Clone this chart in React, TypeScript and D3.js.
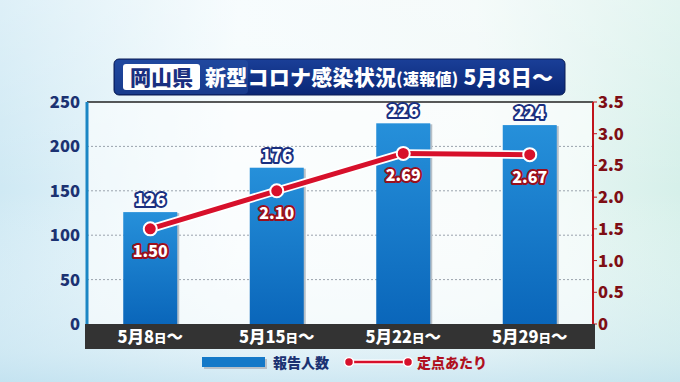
import React from "react";
import * as d3 from "d3";

const categories = ["5月8", "5月15", "5月22", "5月29"];
const reports = [126, 176, 226, 224];
const perSite = [1.5, 2.1, 2.69, 2.67];
const leftTicks = [0, 50, 100, 150, 200, 250];
const rightTicks = [0, 0.5, 1.0, 1.5, 2.0, 2.5, 3.0, 3.5];

const W = 680, H = 382;
const X0 = 87, X1 = 593, Y0 = 324, Y1 = 102;
const FONT = "'Noto Sans CJK JP', 'Noto Sans', sans-serif";

export default function App() {
  const x = d3.scaleBand<string>().domain(categories).range([X0, X1]).paddingInner(0.573).paddingOuter(0.2865);
  const yL = d3.scaleLinear().domain([0, 250]).range([Y0, Y1]);
  const yR = d3.scaleLinear().domain([0, 3.5]).range([Y0, Y1]);
  const cx = (c: string) => (x(c) as number) + x.bandwidth() / 2;
  const line = d3.line<number>().x((_, i) => cx(categories[i])).y((d) => yR(d));
  const path = line(perSite) as string;

  return (
    <svg width={W} height={H} style={{ position: "absolute", left: 0, top: 0, fontFamily: FONT }}>
      <defs>
        <linearGradient id="bg" x1="0" y1="0" x2="1" y2="0">
          <stop offset="0" stopColor="#cfe9f4" />
          <stop offset="0.35" stopColor="#f4fbfd" />
          <stop offset="0.7" stopColor="#f1f9f8" />
          <stop offset="1" stopColor="#d6f0ea" />
        </linearGradient>
        <linearGradient id="bgv" x1="0" y1="0" x2="0" y2="1">
          <stop offset="0" stopColor="#ffffff" stopOpacity="0.3" />
          <stop offset="0.5" stopColor="#ffffff" stopOpacity="0" />
          <stop offset="0.92" stopColor="#cfe8f3" stopOpacity="0.5" />
          <stop offset="1" stopColor="#bfe0ef" stopOpacity="0.7" />
        </linearGradient>
        <linearGradient id="bar" x1="0" y1="0" x2="0" y2="1">
          <stop offset="0" stopColor="#2690da" />
          <stop offset="1" stopColor="#0a66ba" />
        </linearGradient>
        <linearGradient id="title" x1="0" y1="0" x2="0" y2="1">
          <stop offset="0" stopColor="#1a3f98" />
          <stop offset="1" stopColor="#0a2776" />
        </linearGradient>
      </defs>
      <rect x={0} y={0} width={W} height={H} fill="url(#bg)" />
      <rect x={0} y={0} width={W} height={H} fill="url(#bgv)" />

      {/* plot area */}
      <rect x={X0} y={Y1} width={X1 - X0} height={Y0 - Y1} fill="#ffffff" opacity={0.55} />
      {leftTicks.filter((t) => t > 0 && t < 250).map((t) => (
        <line key={t} x1={X0} x2={X1} y1={yL(t)} y2={yL(t)} stroke="#9aa3ad" strokeWidth={1} strokeDasharray="2 2" />
      ))}
      <line x1={X0} x2={X1} y1={Y1} y2={Y1} stroke="#222" strokeWidth={1.5} />

      {/* bars */}
      {reports.map((v, i) => {
        const c = categories[i];
        const bx = x(c) as number;
        return (
          <g key={c}>
            <rect x={bx + 2} y={yL(v) + 1} width={x.bandwidth()} height={Y0 - yL(v)} fill="#b7c0c8" />
            <rect x={bx} y={yL(v)} width={x.bandwidth()} height={Y0 - yL(v)} fill="url(#bar)" />
          </g>
        );
      })}

      {/* axes */}
      <line x1={X0} x2={X0} y1={Y1} y2={Y0} stroke="#1b86c4" strokeWidth={3} />
      <line x1={X1} x2={X1} y1={Y1} y2={Y0} stroke="#c0141c" strokeWidth={2} />
      {rightTicks.map((t) => (
        <line key={t} x1={X1} x2={X1 + 4} y1={yR(t)} y2={yR(t)} stroke="#c0141c" strokeWidth={1} />
      ))}
      {leftTicks.map((t) => (
        <text key={t} x={80} y={yL(t) + 6} textAnchor="end" fontSize={16.5} fontWeight={900} fill="#1b3272">{t}</text>
      ))}
      {rightTicks.map((t) => (
        <text key={t} x={598} y={yR(t) + 6} textAnchor="start" fontSize={16.5} fontWeight={900} fill="#7e0e14">{t === 0 ? "0" : t.toFixed(1)}</text>
      ))}

      {/* category band */}
      <rect x={85} y={Y0} width={510} height={25} fill="#333333" />
      {categories.map((c) => (
        <text key={c} x={cx(c)} y={343} textAnchor="middle" fontSize={16.5} fontWeight={900} fill="#ffffff">
          {c}<tspan fontSize={12.5}>日</tspan>〜
        </text>
      ))}

      {/* line */}
      <path d={path} fill="none" stroke="#ffffff" strokeWidth={8.5} strokeLinejoin="round" />
      <path d={path} fill="none" stroke="#d7102b" strokeWidth={5} strokeLinejoin="round" />
      {perSite.map((v, i) => (
        <circle key={i} cx={cx(categories[i])} cy={yR(v)} r={6.5} fill="#d7102b" stroke="#ffffff" strokeWidth={2} />
      ))}

      {/* labels */}
      {reports.map((v, i) => (
        <text key={i} x={cx(categories[i])} y={yL(v) - 6} textAnchor="middle" fontSize={17} fontWeight={900}
          fill="#ffffff" stroke="#1a2f80" strokeWidth={4} strokeLinejoin="round" style={{ paintOrder: "stroke" }}>{v}</text>
      ))}
      {perSite.map((v, i) => (
        <text key={i} x={cx(categories[i])} y={yR(v) + 28} textAnchor="middle" fontSize={16} fontWeight={900}
          fill="#ffffff" stroke="#9a0f1c" strokeWidth={4} strokeLinejoin="round" style={{ paintOrder: "stroke" }}>{v.toFixed(2)}</text>
      ))}

      {/* title */}
      <rect x={114} y={59} width={451} height={36} rx={5} fill="url(#title)" stroke="#0a1c55" strokeWidth={1} />
      <rect x={115} y={60} width={133} height={34} rx={4} fill="#2a55a8" opacity={0.45} />
      <rect x={123} y={64} width={77} height={26} rx={3} fill="#ffffff" />
      <text x={161.5} y={85} textAnchor="middle" fontSize={21} fontWeight={900} fill="#1a2f80">岡山県</text>
      <text x={205} y={85} fontSize={21} fontWeight={900} fill="#ffffff" textLength={348} lengthAdjust="spacing">
        新型コロナ感染状況<tspan fontSize={16}>(速報値)</tspan> 5月8日〜
      </text>

      {/* legend */}
      <rect x={204} y={359} width={63} height={10} fill="#b7c0c8" />
      <rect x={202} y={357} width={63} height={10} fill="#1479c8" />
      <text x={273} y={367.5} fontSize={14} fontWeight={900} fill="#1b3272">報告人数</text>
      <line x1={349} x2={408} y1={362} y2={362} stroke="#ffffff" strokeWidth={5} />
      <line x1={349} x2={408} y1={362} y2={362} stroke="#d7102b" strokeWidth={2.5} />
      <circle cx={349} cy={362} r={4.5} fill="#d7102b" stroke="#fff" strokeWidth={1.5} />
      <circle cx={408} cy={362} r={4.5} fill="#d7102b" stroke="#fff" strokeWidth={1.5} />
      <text x={417} y={367.5} fontSize={14} fontWeight={900} fill="#b01020">定点あたり</text>
    </svg>
  );
}
